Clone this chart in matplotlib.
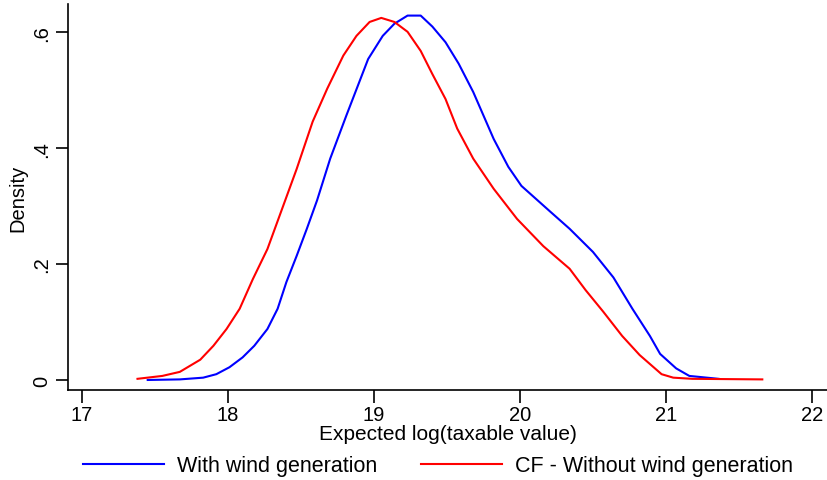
import matplotlib
matplotlib.use("Agg")
import matplotlib.pyplot as plt

plt.rcParams['font.family'] = ['Liberation Sans', 'DejaVu Sans']

# Densidade estimada - com geração eólica (azul)
x_com = [17.45, 17.67, 17.83, 17.92, 18.01, 18.10, 18.18, 18.27, 18.34, 18.40,
         18.47, 18.54, 18.61, 18.70, 18.81, 18.96, 19.06, 19.14, 19.23, 19.32,
         19.40, 19.49, 19.58, 19.68, 19.82, 19.92, 20.01, 20.21, 20.34, 20.50,
         20.64, 20.77, 20.89, 20.96, 21.07, 21.16, 21.36]
y_com = [0.000, 0.001, 0.004, 0.010, 0.022, 0.039, 0.059, 0.088, 0.123, 0.169,
         0.214, 0.261, 0.310, 0.382, 0.456, 0.554, 0.594, 0.615, 0.629, 0.629,
         0.610, 0.583, 0.546, 0.497, 0.416, 0.368, 0.335, 0.290, 0.261, 0.221,
         0.177, 0.123, 0.076, 0.045, 0.020, 0.007, 0.002]

# Contrafactual - sem geração eólica (vermelho)
x_sem = [17.38, 17.55, 17.67, 17.81, 17.90, 17.99, 18.08, 18.17, 18.27, 18.37,
         18.47, 18.58, 18.68, 18.79, 18.88, 18.97, 19.05, 19.14, 19.23, 19.32,
         19.40, 19.49, 19.57, 19.68, 19.82, 19.98, 20.16, 20.34, 20.45, 20.57,
         20.70, 20.82, 20.97, 21.05, 21.18, 21.66]
y_sem = [0.002, 0.007, 0.014, 0.035, 0.059, 0.088, 0.123, 0.174, 0.226, 0.295,
         0.364, 0.446, 0.503, 0.560, 0.594, 0.618, 0.625, 0.618, 0.601, 0.568,
         0.528, 0.485, 0.434, 0.382, 0.330, 0.278, 0.231, 0.192, 0.155, 0.118,
         0.076, 0.043, 0.010, 0.004, 0.002, 0.001]

xticks = [17, 18, 19, 20, 21, 22]
yticks = [0, 0.2, 0.4, 0.6]
ytick_labels = ["0", ".2", ".4", ".6"]

fig = plt.figure(figsize=(8.28, 4.81), dpi=100)
ax = fig.add_axes([68 / 828, 90 / 481, 760 / 828, 386 / 481])

ax.plot(x_com, y_com, color="#0000ff", lw=1.5, label="With wind generation")
ax.plot(x_sem, y_sem, color="#ff0000", lw=1.5, label="CF - Without wind generation")

ax.set_xlim(16.904, 22.11)
ax.set_ylim(-0.0173, 0.649)

ax.set_xticks(xticks)
ax.set_yticks(yticks)
ax.set_yticklabels(ytick_labels, rotation=90, va="center")
ax.tick_params(axis="both", labelsize=14.5, length=9, width=1.2, color="black")
ax.tick_params(axis="x", pad=2)
ax.tick_params(axis="y", pad=3)

ax.spines["top"].set_visible(False)
ax.spines["right"].set_visible(False)
ax.spines["left"].set_linewidth(1.2)
ax.spines["bottom"].set_linewidth(1.2)

ax.set_xlabel("Expected log(taxable value)", fontsize=15, labelpad=0)
ax.set_ylabel("Density", fontsize=14.5)
ax.yaxis.set_label_coords(-0.053, 0.5)

fig.legend(loc="center", bbox_to_anchor=(0.529, 14 / 481), ncol=2, frameon=False,
           fontsize=15.5, handlelength=3.8, handletextpad=0.6, columnspacing=2.0)

fig.savefig("out.png", dpi=100)
